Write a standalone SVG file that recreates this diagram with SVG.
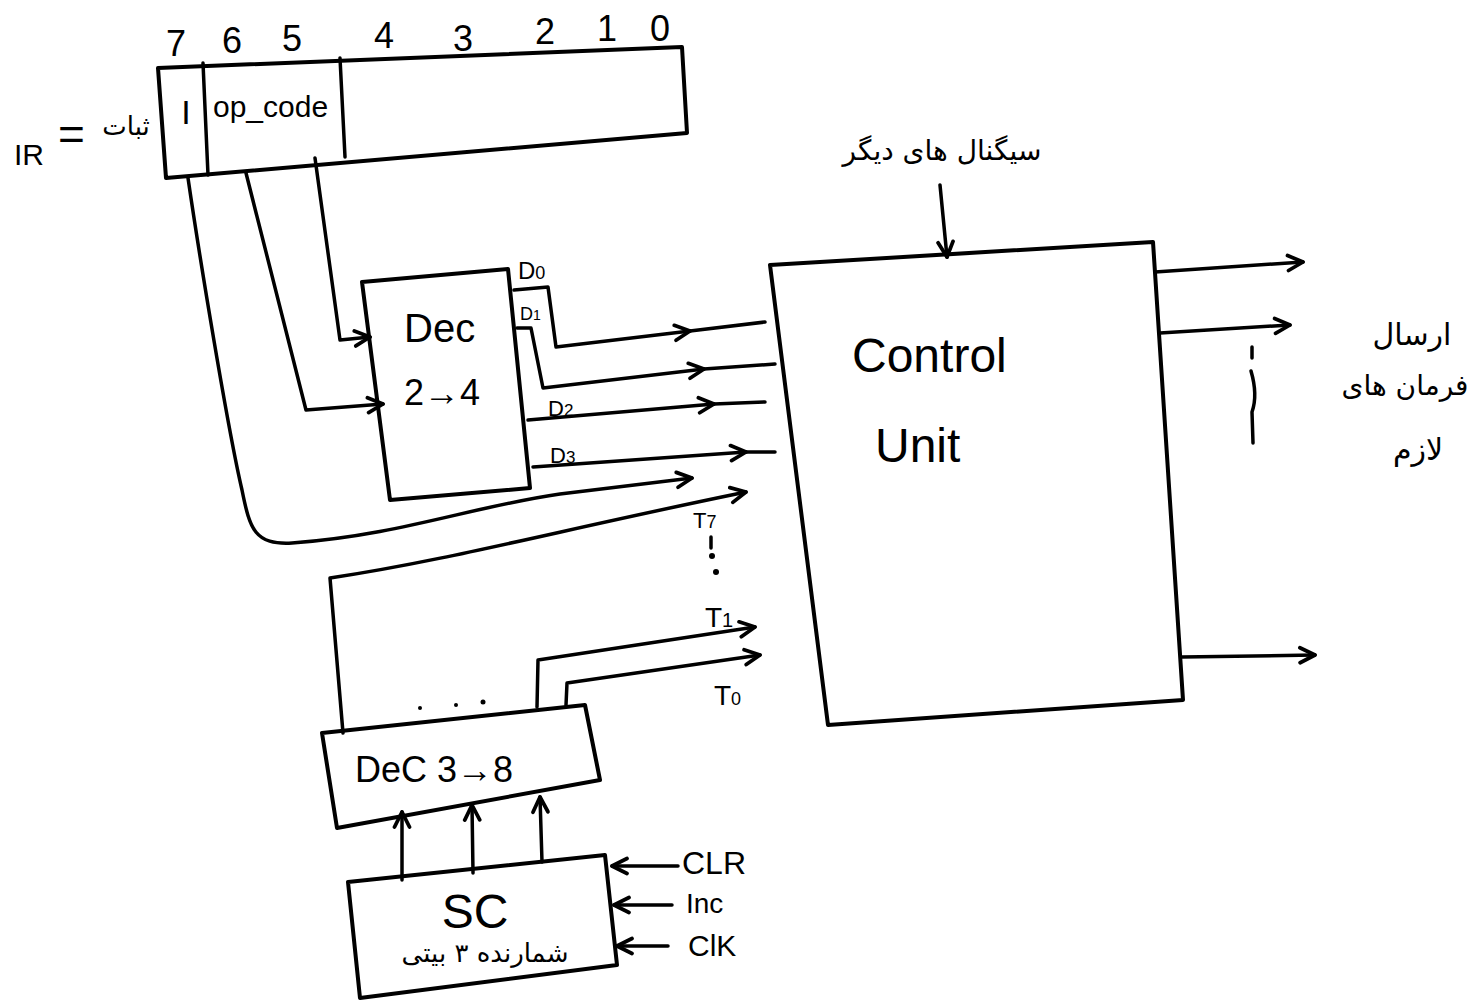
<svg xmlns="http://www.w3.org/2000/svg" width="1476" height="1001" viewBox="0 0 1476 1001">
<defs>
<style>
.box{fill:none;stroke:#000;stroke-width:4;stroke-linejoin:round}
.ln{fill:none;stroke:#000;stroke-width:3.5;stroke-linecap:round;stroke-linejoin:round}
.t{font-family:"Liberation Sans","DejaVu Sans",sans-serif;fill:#000}
.fa{font-family:"DejaVu Sans","Noto Sans",sans-serif;fill:#000}
</style>
<marker id="arr" viewBox="0 0 16 16" refX="14" refY="8" markerWidth="20" markerHeight="20" markerUnits="userSpaceOnUse" orient="auto">
<path d="M2,2 L14,8 L2,14" fill="none" stroke="#000" stroke-width="3" stroke-linecap="round" stroke-linejoin="round"/>
</marker>
</defs>
<rect width="1476" height="1001" fill="#fff"/>

<g id="ir-register">
<polygon class="box" points="158,68 682,47 687,133 166,178"/>
<line class="ln" x1="203" y1="63" x2="208" y2="175"/>
<line class="ln" x1="340" y1="58" x2="345" y2="157"/>
<g class="t" font-size="36" text-anchor="middle">
<text x="176" y="56">7</text>
<text x="232" y="53">6</text>
<text x="292" y="51">5</text>
<text x="384" y="48">4</text>
<text x="463" y="51">3</text>
<text x="545" y="44">2</text>
<text x="607" y="41">1</text>
<text x="660" y="41">0</text>
</g>
<text class="t" x="186" y="124" font-size="34" text-anchor="middle">I</text>
<text class="t" x="213" y="117" font-size="30">op_code</text>
</g>

<g id="ir-label">
<text class="t" x="14" y="165" font-size="30">IR</text>
<text class="t" x="58" y="150" font-size="46">=</text>
<text class="fa" x="126" y="135" font-size="26" text-anchor="middle">ثبات</text>
</g>

<g id="decoder-2to4">
<polygon class="box" points="362,282 508,269 530,488 390,500"/>
<text class="t" x="404" y="342" font-size="40">Dec</text>
<text class="t" x="404" y="405" font-size="36">2→4</text>
</g>

<g id="control-unit">
<polygon class="box" points="770,265 1153,242 1183,700 828,725"/>
<text class="t" x="852" y="372" font-size="48">Control</text>
<text class="t" x="875" y="462" font-size="48">Unit</text>
</g>

<g id="decoder-3to8">
<polygon class="box" points="322,733 585,705 600,780 337,828"/>
<text class="t" x="355" y="782" font-size="36">DeC 3→8</text>
</g>

<g id="sc">
<polygon class="box" points="348,882 605,855 617,965 360,998"/>
<text class="t" x="475" y="928" font-size="48" text-anchor="middle">SC</text>
<text class="fa" x="485" y="962" font-size="26" text-anchor="middle">شمارنده ۳ بیتی</text>
</g>

<g id="connectors">
<path class="ln" d="M246,173 L306,410 L383,404" marker-end="url(#arr)"/>
<path class="ln" d="M315,158 L340,340 L370,337" marker-end="url(#arr)"/>
<path class="ln" d="M188,178 C200,260 228,430 242,490 C250,530 255,545 292,543 C400,535 470,507 560,494 L692,478" marker-end="url(#arr)"/>
<path class="ln" d="M514,290 L548,287 L556,347 L690,331" marker-end="url(#arr)"/>
<path class="ln" d="M690,331 L765,322"/>
<path class="ln" d="M517,328 L531,328 L543,388 L704,369" marker-end="url(#arr)"/>
<path class="ln" d="M704,369 L775,364"/>
<path class="ln" d="M528,420 L714,404" marker-end="url(#arr)"/>
<path class="ln" d="M714,404 L765,402"/>
<path class="ln" d="M533,467 L746,452" marker-end="url(#arr)"/>
<path class="ln" d="M746,452 L775,452"/>
<path class="ln" d="M343,733 L330,578 C450,560 560,530 746,492" marker-end="url(#arr)"/>
<path class="ln" d="M537,707 L538,660 L755,627" marker-end="url(#arr)"/>
<path class="ln" d="M566,705 L567,683 L760,655" marker-end="url(#arr)"/>
<path class="ln" d="M402,880 L402,812" marker-end="url(#arr)"/>
<path class="ln" d="M473,873 L472,805" marker-end="url(#arr)"/>
<path class="ln" d="M542,862 L540,797" marker-end="url(#arr)"/>
<path class="ln" d="M678,866 L612,866" marker-end="url(#arr)"/>
<path class="ln" d="M672,905 L614,905" marker-end="url(#arr)"/>
<path class="ln" d="M668,946 L617,946" marker-end="url(#arr)"/>
<path class="ln" d="M940,185 L947,257" marker-end="url(#arr)"/>
<path class="ln" d="M1155,272 L1303,262" marker-end="url(#arr)"/>
<path class="ln" d="M1160,333 L1290,325" marker-end="url(#arr)"/>
<path class="ln" d="M1182,657 L1315,655" marker-end="url(#arr)"/>
<path class="ln" d="M1252,347 L1252,358 M1251,371 Q1258,395 1252,412 L1253,443"/>
</g>

<g id="labels">
<text class="t" x="518" y="279" font-size="24">D<tspan font-size="18">0</tspan></text>
<text class="t" x="520" y="320" font-size="18">D<tspan font-size="14">1</tspan></text>
<text class="t" x="548" y="416" font-size="22">D<tspan font-size="17">2</tspan></text>
<text class="t" x="550" y="463" font-size="22">D<tspan font-size="17">3</tspan></text>
<text class="t" x="693" y="528" font-size="22">T<tspan font-size="18">7</tspan></text>
<line class="ln" x1="711" y1="537" x2="711" y2="548"/>
<circle cx="712" cy="556" r="3" fill="#000"/>
<circle cx="716" cy="572" r="3" fill="#000"/>
<text class="t" x="705" y="627" font-size="28">T<tspan font-size="20">1</tspan></text>
<text class="t" x="714" y="705" font-size="28">T<tspan font-size="18">0</tspan></text>
<circle cx="420" cy="708" r="2" fill="#000"/>
<circle cx="456" cy="705" r="2" fill="#000"/>
<circle cx="483" cy="702" r="2.5" fill="#000"/>
<text class="t" x="682" y="874" font-size="32">CLR</text>
<text class="t" x="686" y="913" font-size="28">Inc</text>
<text class="t" x="688" y="956" font-size="30">ClK</text>
<text class="fa" x="942" y="160" font-size="28" text-anchor="middle">سیگنال های دیگر</text>
<text class="fa" x="1412" y="345" font-size="30" text-anchor="middle">ارسال</text>
<text class="fa" x="1405" y="395" font-size="28" text-anchor="middle">فرمان های</text>
<text class="fa" x="1418" y="460" font-size="30" text-anchor="middle">لازم</text>
</g>
</svg>
